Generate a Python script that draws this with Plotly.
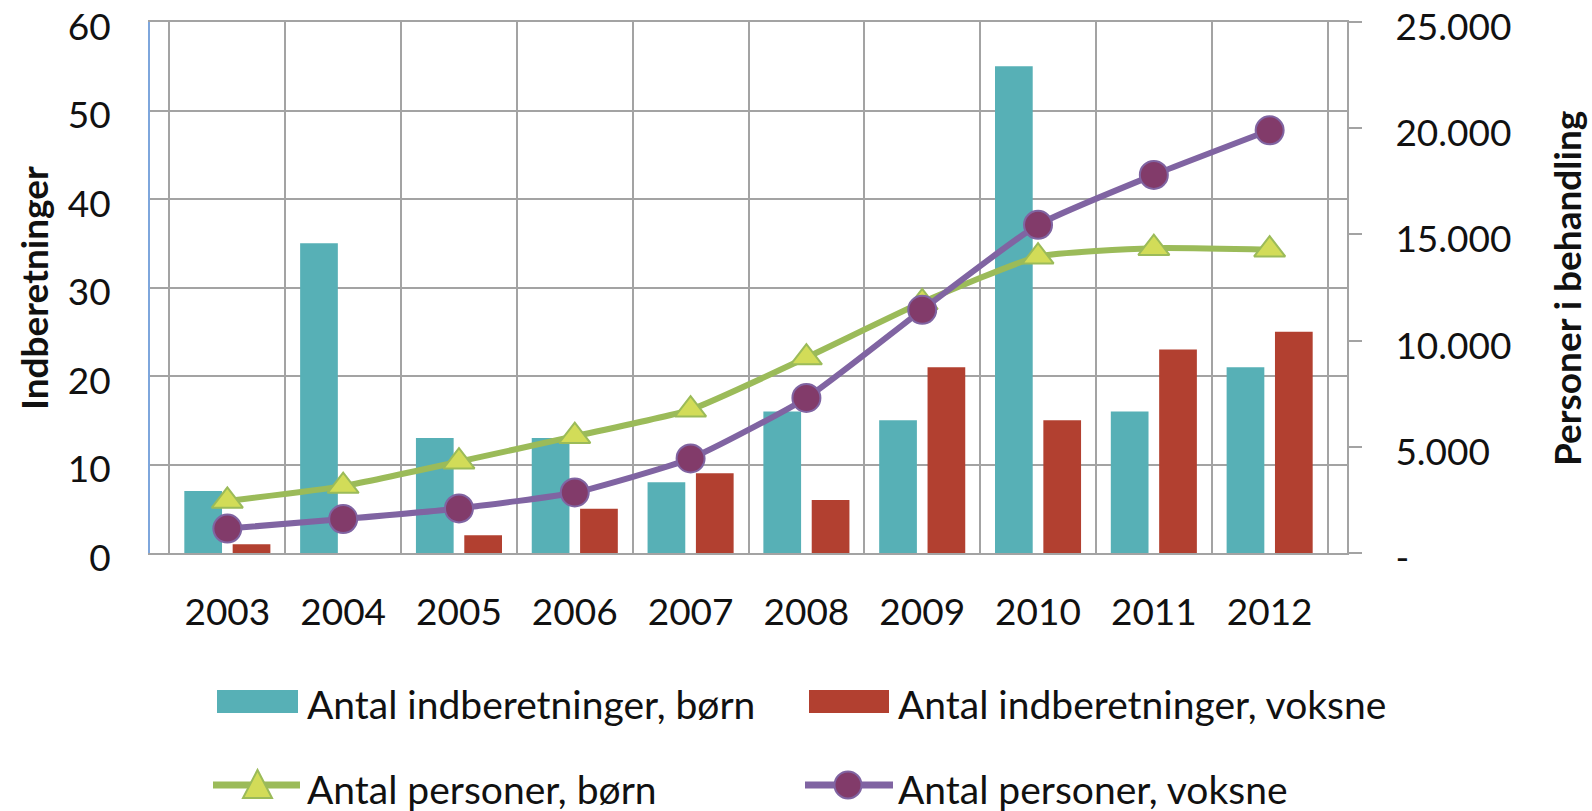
import plotly.graph_objects as go

# ---------------- data ----------------
years = ["2003", "2004", "2005", "2006", "2007", "2008", "2009", "2010", "2011", "2012"]
reports_children = [7, 35, 13, 13, 8, 16, 15, 55, 16, 21]
reports_adults = [1, 0, 2, 5, 9, 6, 21, 15, 23, 25]
persons_children = [2450, 3150, 4300, 5500, 6750, 9200, 11800, 13950, 14350, 14280]
persons_adults = [1150, 1600, 2100, 2850, 4450, 7300, 11450, 15450, 17800, 19900]

left_tickvals = [0, 10, 20, 30, 40, 50, 60]
right_tickvals = [0, 5000, 10000, 15000, 20000, 25000]
right_ticktext = ["-", "5.000", "10.000", "15.000", "20.000", "25.000"]

series_names = [
    "Antal indberetninger, børn",
    "Antal indberetninger, voksne",
    "Antal personer, børn",
    "Antal personer, voksne",
]
left_title = "Indberetninger"
right_title = "Personer i behandling"

# ---------------- style ----------------
TEAL = "#57b0b6"
RED = "#b24030"
GREEN = "#9bbb59"
GREEN_FILL = "#d2dc58"
PURPLE = "#8064a2"
PLUM = "#823b6a"
GRID = "#a3a3a3"
AXIS_BLUE = "#7ea6dc"
TEXT = "#111111"
FONT = "Lato"
TICK_SIZE = 37
LEGEND_SIZE = 39
TITLE_SIZE = 37

W, H = 1592, 811
L, R, T, B = 150, 1347, 22, 553


def px(x):
    return (x - L) / (R - L)


def py(y):
    return (B - y) / (B - T)


fig = go.Figure()
fig.add_trace(go.Bar(x=years, y=reports_children, name=series_names[0],
                     marker=dict(color=TEAL, line=dict(width=0)), showlegend=False))
fig.add_trace(go.Bar(x=years, y=reports_adults, name=series_names[1],
                     marker=dict(color=RED, line=dict(width=0)), showlegend=False))
fig.add_trace(go.Scatter(x=years, y=persons_children, name=series_names[2], yaxis="y2",
                         mode="lines+markers",
                         line=dict(color=GREEN, width=6, shape="spline", smoothing=0.5),
                         marker=dict(symbol="triangle-up", size=27, color=GREEN_FILL,
                                     line=dict(color=GREEN, width=2)),
                         showlegend=False))
fig.add_trace(go.Scatter(x=years, y=persons_adults, name=series_names[3], yaxis="y2",
                         mode="lines+markers",
                         line=dict(color=PURPLE, width=6, shape="spline", smoothing=0.5),
                         marker=dict(symbol="circle", size=28, color=PLUM,
                                     line=dict(color=PURPLE, width=2)),
                         showlegend=False))

# ---------------- custom legend ----------------
shapes = [
    dict(type="rect", xref="paper", yref="paper", x0=px(217), x1=px(298), y0=py(713), y1=py(690),
         fillcolor=TEAL, line=dict(width=0)),
    dict(type="rect", xref="paper", yref="paper", x0=px(809), x1=px(889), y0=py(713), y1=py(690),
         fillcolor=RED, line=dict(width=0)),
    dict(type="line", xref="paper", yref="paper", x0=px(213), x1=px(300), y0=py(785), y1=py(785),
         line=dict(color=GREEN, width=7)),
    dict(type="path", xref="paper", yref="paper",
         path=f"M {px(243)} {py(798)} L {px(272)} {py(798)} L {px(257.5)} {py(770)} Z",
         fillcolor=GREEN_FILL, line=dict(color=GREEN, width=2)),
    dict(type="line", xref="paper", yref="paper", x0=px(805), x1=px(893), y0=py(785), y1=py(785),
         line=dict(color=PURPLE, width=7)),
    dict(type="circle", xref="paper", yref="paper", x0=px(834.5), x1=px(861.5),
         y0=py(798.5), y1=py(771.5), fillcolor=PLUM, line=dict(color=PURPLE, width=2)),
]

legend_pos = [(305, 704), (896, 704), (305, 789), (896, 789)]
annotations = []
for name, (lx, ly) in zip(series_names, legend_pos):
    annotations.append(dict(text=name, xref="paper", yref="paper", x=px(lx), y=py(ly),
                            xanchor="left", yanchor="middle", showarrow=False,
                            font=dict(family=FONT, size=LEGEND_SIZE, color=TEXT)))
annotations.append(dict(text=left_title, xref="paper", yref="paper", x=px(33), y=py(288),
                        xanchor="center", yanchor="middle", textangle=-90, showarrow=False,
                        font=dict(family=FONT, size=TITLE_SIZE, color=TEXT, weight="bold")))
annotations.append(dict(text=right_title, xref="paper", yref="paper", x=px(1567), y=py(289),
                        xanchor="center", yanchor="middle", textangle=-90, showarrow=False,
                        font=dict(family=FONT, size=TITLE_SIZE, color=TEXT, weight="bold")))

fig.update_layout(
    width=W, height=H, autosize=False,
    margin=dict(l=L, r=W - R, t=T, b=H - B, pad=0, autoexpand=False),
    paper_bgcolor="white", plot_bgcolor="white",
    barmode="group", bargap=0.165, bargroupgap=0.22,
    showlegend=False,
    font=dict(family=FONT, size=TICK_SIZE, color=TEXT),
    xaxis=dict(type="category", tickson="boundaries", showgrid=True, gridcolor=GRID, gridwidth=2,
               ticks="", showline=True, mirror=True, linecolor=GRID, linewidth=2,
               tickfont=dict(family=FONT, size=TICK_SIZE, color=TEXT), ticklabelstandoff=26,
               automargin=False),
    yaxis=dict(range=[0, 60], tickvals=left_tickvals, showgrid=True, gridcolor=GRID, gridwidth=2,
               zeroline=False, showline=True, linecolor=AXIS_BLUE, linewidth=2, ticks="",
               tickfont=dict(family=FONT, size=TICK_SIZE, color=TEXT), ticklabelstandoff=30,
               ticklabelshift=5, ticklabeloverflow="allow", automargin=False),
    yaxis2=dict(range=[0, 25000], overlaying="y", side="right", tickvals=right_tickvals,
                ticktext=right_ticktext, showgrid=False, zeroline=False, showline=True,
                linecolor=GRID, linewidth=2, ticks="outside", ticklen=13, tickwidth=2,
                tickcolor=GRID, tickfont=dict(family=FONT, size=TICK_SIZE, color=TEXT),
                ticklabelstandoff=26, ticklabelshift=5, ticklabeloverflow="allow",
                automargin=False),
    shapes=shapes,
    annotations=annotations,
)

fig.write_html("out.html", config={"displayModeBar": False},
               post_script="document.body.style.margin='0px';")
